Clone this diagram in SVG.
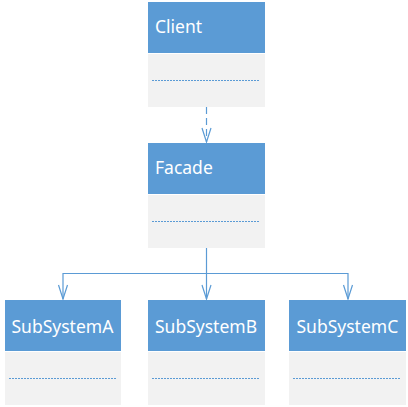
<svg xmlns="http://www.w3.org/2000/svg" width="408" height="407" viewBox="0 0 408 407">
<defs>
<style>
.hd{fill:#5B9BD5}
.bd{fill:#F2F2F2}
.dot{stroke:#5B9BD5;stroke-width:1;stroke-dasharray:2 1;fill:none}
.t{font-family:"Noto Sans","Liberation Sans",sans-serif;font-size:17.5px;fill:#FFFFFF}
.ln{stroke:#5B9BD5;stroke-width:1.2;fill:none}
</style>
</defs>
<rect width="408" height="407" fill="#FFFFFF"/>
<g id="client">
<rect class="hd" x="148" y="2" width="117" height="51"/>
<rect class="bd" x="148" y="54" width="117" height="53"/>
<line class="dot" x1="152" y1="80.5" x2="260" y2="80.5"/>
<text class="t" x="155" y="33">Client</text>
</g>
<g id="facade">
<rect class="hd" x="148" y="143" width="117" height="51"/>
<rect class="bd" x="148" y="195" width="117" height="53"/>
<line class="dot" x1="152" y1="221.5" x2="260" y2="221.5"/>
<text class="t" x="155" y="173.5">Facade</text>
</g>
<g id="subsystemA">
<rect class="hd" x="5" y="300" width="116" height="51"/>
<rect class="bd" x="5" y="352" width="116" height="53"/>
<line class="dot" x1="9" y1="378.5" x2="116" y2="378.5"/>
<text class="t" x="11.5" y="332.5">SubSystemA</text>
</g>
<g id="subsystemB">
<rect class="hd" x="148" y="300" width="117" height="51"/>
<rect class="bd" x="148" y="352" width="117" height="53"/>
<line class="dot" x1="152" y1="378.5" x2="260" y2="378.5"/>
<text class="t" x="155" y="332.5">SubSystemB</text>
</g>
<g id="subsystemC">
<rect class="hd" x="289" y="300" width="117" height="51"/>
<rect class="bd" x="289" y="352" width="117" height="53"/>
<line class="dot" x1="293" y1="378.5" x2="401" y2="378.5"/>
<text class="t" x="296.5" y="332.5">SubSystemC</text>
</g>
<g id="connectors">
<line class="ln" x1="206.5" y1="107" x2="206.5" y2="142" stroke-dasharray="7 4"/>
<polyline class="ln" points="202,128 206.5,142 211,128"/>
<line class="ln" x1="206.5" y1="248" x2="206.5" y2="299"/>
<polyline class="ln" points="63,299 63,273.5 348,273.5 348,299"/>
<polyline class="ln" points="58.5,285 63,299 67.5,285"/>
<polyline class="ln" points="202,285 206.5,299 211,285"/>
<polyline class="ln" points="343.5,285 348,299 352.5,285"/>
</g>
</svg>
